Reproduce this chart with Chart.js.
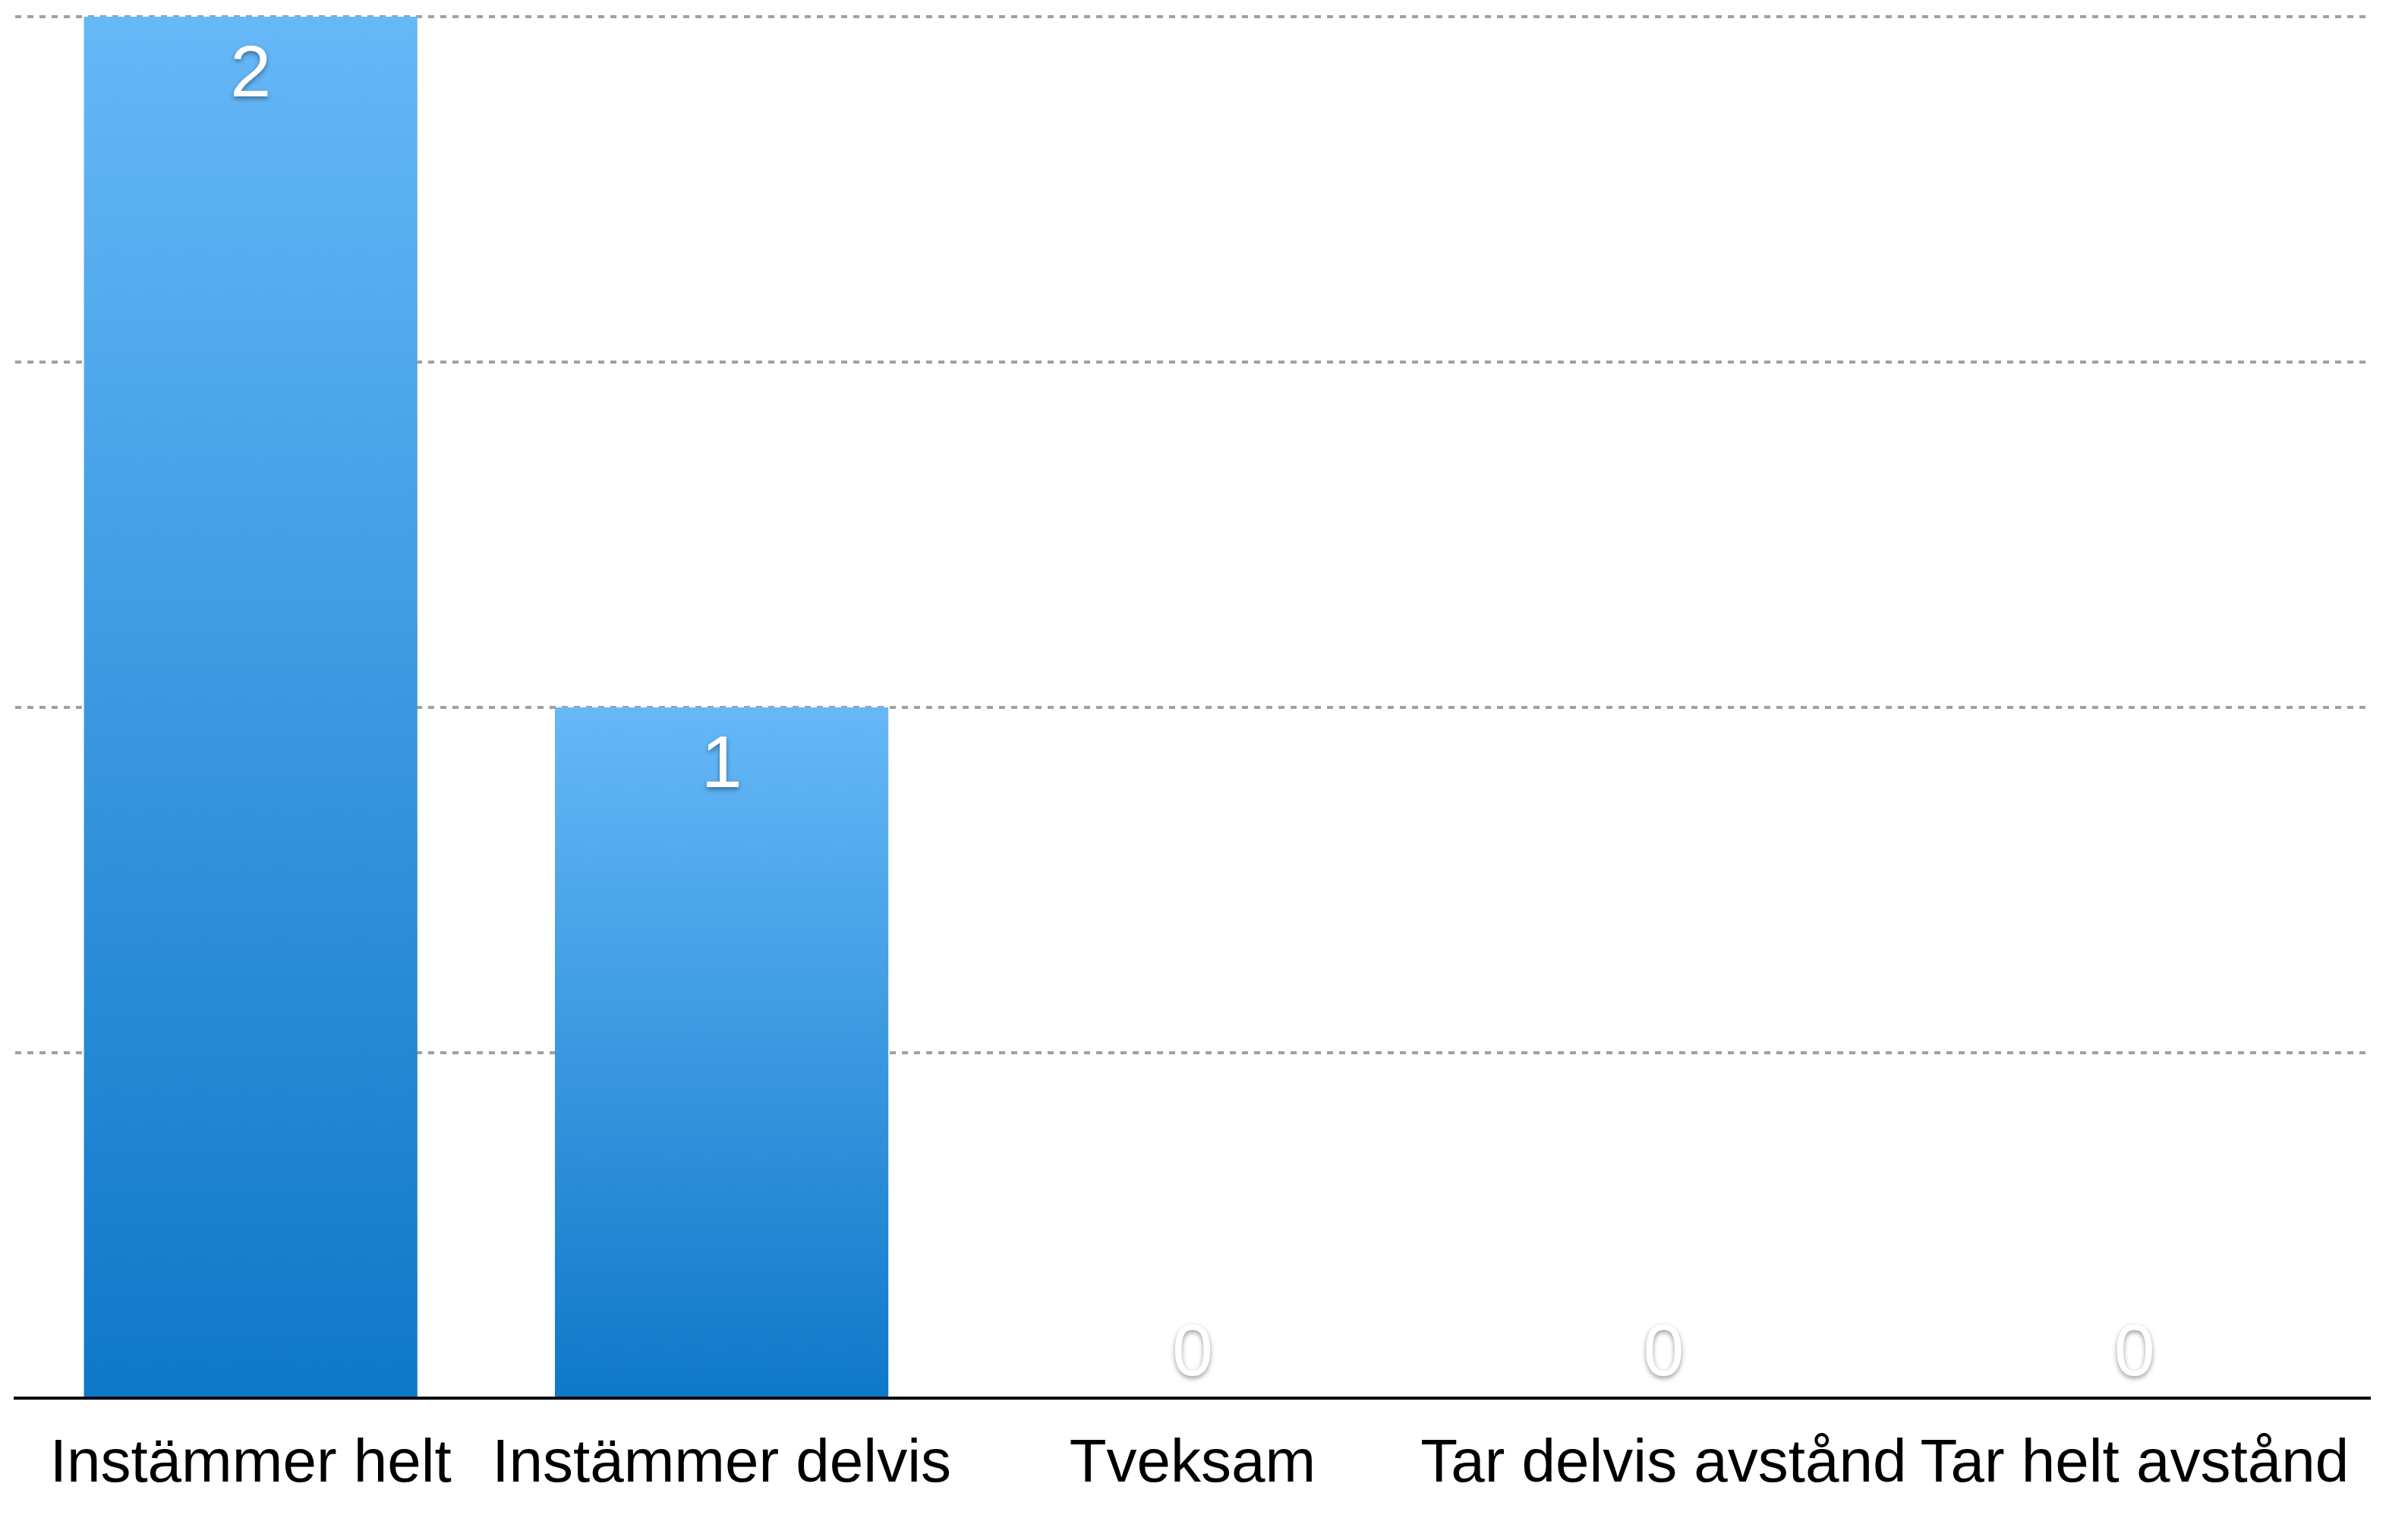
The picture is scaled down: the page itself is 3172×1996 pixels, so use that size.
<!DOCTYPE html>
<html>
<head>
<meta charset="utf-8">
<script src="https://cdn.jsdelivr.net/npm/chart.js@4"></script>
<style>
  html, body { margin: 0; padding: 0; background: #ffffff; }
  canvas { display: block; }
</style>
</head>
<body>
<canvas id="svar-chart" width="3172" height="1996"></canvas>
<script>
// svarsalternativ och antal svar
const categories = ["Instämmer helt", "Instämmer delvis", "Tveksam", "Tar delvis avstånd", "Tar helt avstånd"];
const answerCounts = [2, 1, 0, 0, 0];
const yTicks = [0, 0.5, 1, 1.5, 2];

// gradient per stapel, ljus överst och mörkare nederst
function barGradient(context) {
  const chart = context.chart;
  const yScale = chart.scales.y;
  if (!yScale || context.parsed == null) return "#3a9be6";
  const top = yScale.getPixelForValue(context.parsed.y);
  const bottom = yScale.getPixelForValue(0);
  if (!isFinite(top) || !isFinite(bottom) || top === bottom) return "#66b8f7";
  const g = chart.ctx.createLinearGradient(0, top, 0, bottom);
  g.addColorStop(0, "#66b8f7");
  g.addColorStop(1, "#0e78c9");
  return g;
}

// värdeetiketter, vit text med skugga
const valueLabels = {
  id: "valueLabels",
  afterDatasetsDraw(chart) {
    const ctx = chart.ctx;
    const meta = chart.getDatasetMeta(0);
    const fontSize = 97;
    ctx.save();
    ctx.font = fontSize + 'px "Liberation Sans", Arial, sans-serif';
    ctx.textAlign = "center";
    ctx.fillStyle = "#ffffff";
    ctx.shadowColor = "rgba(0, 0, 0, 0.4)";
    ctx.shadowBlur = 6;
    ctx.shadowOffsetY = 3;
    meta.data.forEach((bar, i) => {
      const value = answerCounts[i];
      const height = bar.base - bar.y;
      if (height > fontSize + 40) {
        ctx.textBaseline = "top";
        ctx.fillText(String(value), bar.x, bar.y + 30);
      } else {
        ctx.textBaseline = "alphabetic";
        ctx.fillText(String(value), bar.x, bar.base - 30);
      }
    });
    ctx.restore();
  }
};

new Chart(document.getElementById("svar-chart"), {
  type: "bar",
  data: {
    labels: categories,
    datasets: [
      {
        data: answerCounts,
        backgroundColor: barGradient,
        borderWidth: 0,
        categoryPercentage: 1,
        barPercentage: 0.708,
      },
    ],
  },
  options: {
    responsive: false,
    devicePixelRatio: 1,
    animation: false,
    layout: {
      padding: { left: 20, right: 50, top: 22, bottom: -22 },
    },
    plugins: {
      legend: { display: false },
      tooltip: { enabled: false },
    },
    scales: {
      x: {
        grid: { display: false, drawTicks: false },
        border: { display: true, color: "#000000", width: 4 },
        ticks: {
          color: "#000000",
          padding: 56,
          font: { family: '"Liberation Sans", Arial, sans-serif', size: 80, lineHeight: 0.8 },
          maxRotation: 0,
          autoSkip: false,
        },
      },
      y: {
        min: 0,
        max: 2,
        afterBuildTicks: (axis) => {
          axis.ticks = yTicks.map((v) => ({ value: v }));
        },
        grid: {
          color: "#a0a0a0",
          lineWidth: 4,
          drawTicks: false,
        },
        border: { display: false, dash: [8, 8] },
        ticks: { display: false },
      },
    },
  },
  plugins: [valueLabels],
});
</script>
</body>
</html>
